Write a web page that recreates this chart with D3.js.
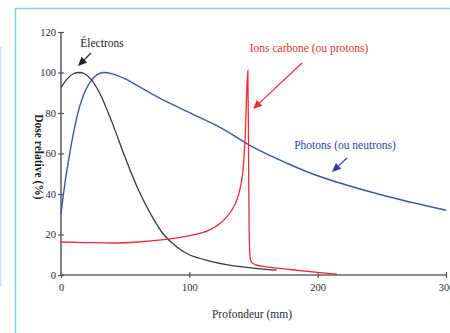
<!DOCTYPE html>
<html>
<head>
<meta charset="utf-8">
<script src="https://cdn.jsdelivr.net/npm/d3@7"></script>
<style>
  body { margin: 0; background: #fff; }
  svg { display: block; font-family: "Liberation Serif", "DejaVu Serif", serif; }
</style>
</head>
<body>
<div id="chart"></div>
<script>
// depth (mm) / relative dose (%)
const electrons = [[0, 92.5], [5, 97], [10, 99.5], [14, 100], [18, 99.5], [23, 97], [30, 90],
  [40, 75], [50, 58], [60, 42.5], [70, 30], [80, 20], [90, 14], [100, 10], [115, 7],
  [130, 5], [145, 3.8], [160, 2.8], [168, 2.4]];
const photons = [[0, 30], [3, 45], [6, 57], [10, 71], [14, 82], [18, 89.5], [23, 95.5],
  [28, 98.8], [33, 100], [40, 99.3], [50, 96.8], [65, 91.5], [80, 86.3], [100, 80.2], [125, 72.5],
  [150, 63], [175, 55.5], [200, 49], [250, 39.5], [300, 32]];
const carbon = [[0, 16.3], [20, 16], [40, 15.8], [60, 16.3], [80, 17.5], [100, 19.5],
  [115, 22], [125, 26], [132, 31], [137, 37], [140, 44], [142, 53], [143.5, 68], [144.6, 88],
  [145.6, 101], [146.2, 55], [146.7, 18], [147.5, 8], [149, 6], [152, 5], [160, 4],
  [180, 2.6], [200, 1.3], [215, 0.4]];
const xTicks = [0, 100, 200, 300];
const yTicks = [0, 20, 40, 60, 80, 100, 120];

const W = 450, H = 333;
const margin = { top: 32, right: 4, bottom: 58, left: 61 };
const width = 446 - margin.left;
const height = H - margin.top - margin.bottom;

const svg = d3.select("#chart").append("svg")
  .attr("width", W).attr("height", H);

// light blue frame
svg.append("path")
  .attr("d", "M15.5,333 L15.5,8.5 L450,8.5")
  .attr("fill", "none").attr("stroke", "#86cdee").attr("stroke-width", 1.5);
svg.append("line")
  .attr("x1", 0.5).attr("x2", 0.5).attr("y1", 47).attr("y2", 287)
  .attr("stroke", "#bfe6f7").attr("stroke-width", 1.5);

const g = svg.append("g").attr("transform", `translate(${margin.left},${margin.top})`);

const x = d3.scaleLinear().domain([0, 300]).range([0, width]);
const y = d3.scaleLinear().domain([0, 120]).range([height, 0]);

const xAxis = g.append("g")
  .attr("transform", `translate(0,${height})`)
  .call(d3.axisBottom(x).tickValues(xTicks).tickSize(3).tickPadding(6));
xAxis.selectAll(".tick line").attr("y1", -3);

const yAxis = g.append("g")
  .call(d3.axisLeft(y).tickValues(yTicks).tickSize(3).tickPadding(2));
yAxis.selectAll(".tick line").attr("x1", 3);

g.selectAll(".domain").attr("stroke", "#666").attr("stroke-width", 1.6);
xAxis.select(".domain").attr("d", `M0,0H${width}`);
yAxis.select(".domain").attr("d", `M0,${height}V0`);
g.selectAll(".tick line").attr("stroke", "#555").attr("stroke-width", 1.2);
g.selectAll(".tick text").attr("font-size", 10.5).attr("fill", "#2b2b40")
  .attr("font-family", "Liberation Serif, serif");

const smooth = d3.line().x(d => x(d[0])).y(d => y(d[1])).curve(d3.curveCatmullRom.alpha(0.5));
const sharp = d3.line().x(d => x(d[0])).y(d => y(d[1])).curve(d3.curveMonotoneX);

g.append("path").datum(photons).attr("d", smooth)
  .attr("fill", "none").attr("stroke", "#3b59a8").attr("stroke-width", 1.4);
g.append("path").datum(electrons).attr("d", smooth)
  .attr("fill", "none").attr("stroke", "#3a3a3a").attr("stroke-width", 1.3);
g.append("path").datum(carbon).attr("d", sharp)
  .attr("fill", "none").attr("stroke", "#ee2b33").attr("stroke-width", 1.3);

// annotations
function arrow(x1, y1, x2, y2, color) {
  const a = Math.atan2(y2 - y1, x2 - x1), L = 9, w = 4;
  const bx = x2 - L * Math.cos(a), by = y2 - L * Math.sin(a);
  svg.append("line").attr("x1", x1).attr("y1", y1).attr("x2", bx).attr("y2", by)
    .attr("stroke", color).attr("stroke-width", 1.2);
  svg.append("path")
    .attr("d", `M${x2},${y2}L${bx + w * Math.sin(a)},${by - w * Math.cos(a)}L${bx - w * Math.sin(a)},${by + w * Math.cos(a)}Z`)
    .attr("fill", color);
}

svg.append("text").attr("x", 102).attr("y", 47).attr("text-anchor", "middle")
  .attr("font-size", 11.5).attr("fill", "#222").text("Électrons");
arrow(91, 53, 78, 66, "#222");

svg.append("text").attr("x", 309).attr("y", 52).attr("text-anchor", "middle")
  .attr("font-size", 11.5).attr("fill", "#e8322f").text("Ions carbone (ou protons)");
arrow(302, 63, 253, 109, "#ee2b33");

svg.append("text").attr("x", 345).attr("y", 149).attr("text-anchor", "middle")
  .attr("font-size", 11.5).attr("fill", "#33449a").text("Photons (ou neutrons)");
arrow(347, 158, 332, 172, "#2c3f9a");

// axis titles
svg.append("text").attr("x", 252).attr("y", 318).attr("text-anchor", "middle")
  .attr("font-size", 11.5).attr("fill", "#2b2b40").text("Profondeur (mm)");
svg.append("text").attr("transform", "translate(35,157) rotate(90)")
  .attr("text-anchor", "middle").attr("font-size", 11.5).attr("font-weight", "bold")
  .attr("fill", "#222").text("Dose relative (%)");
</script>
</body>
</html>
